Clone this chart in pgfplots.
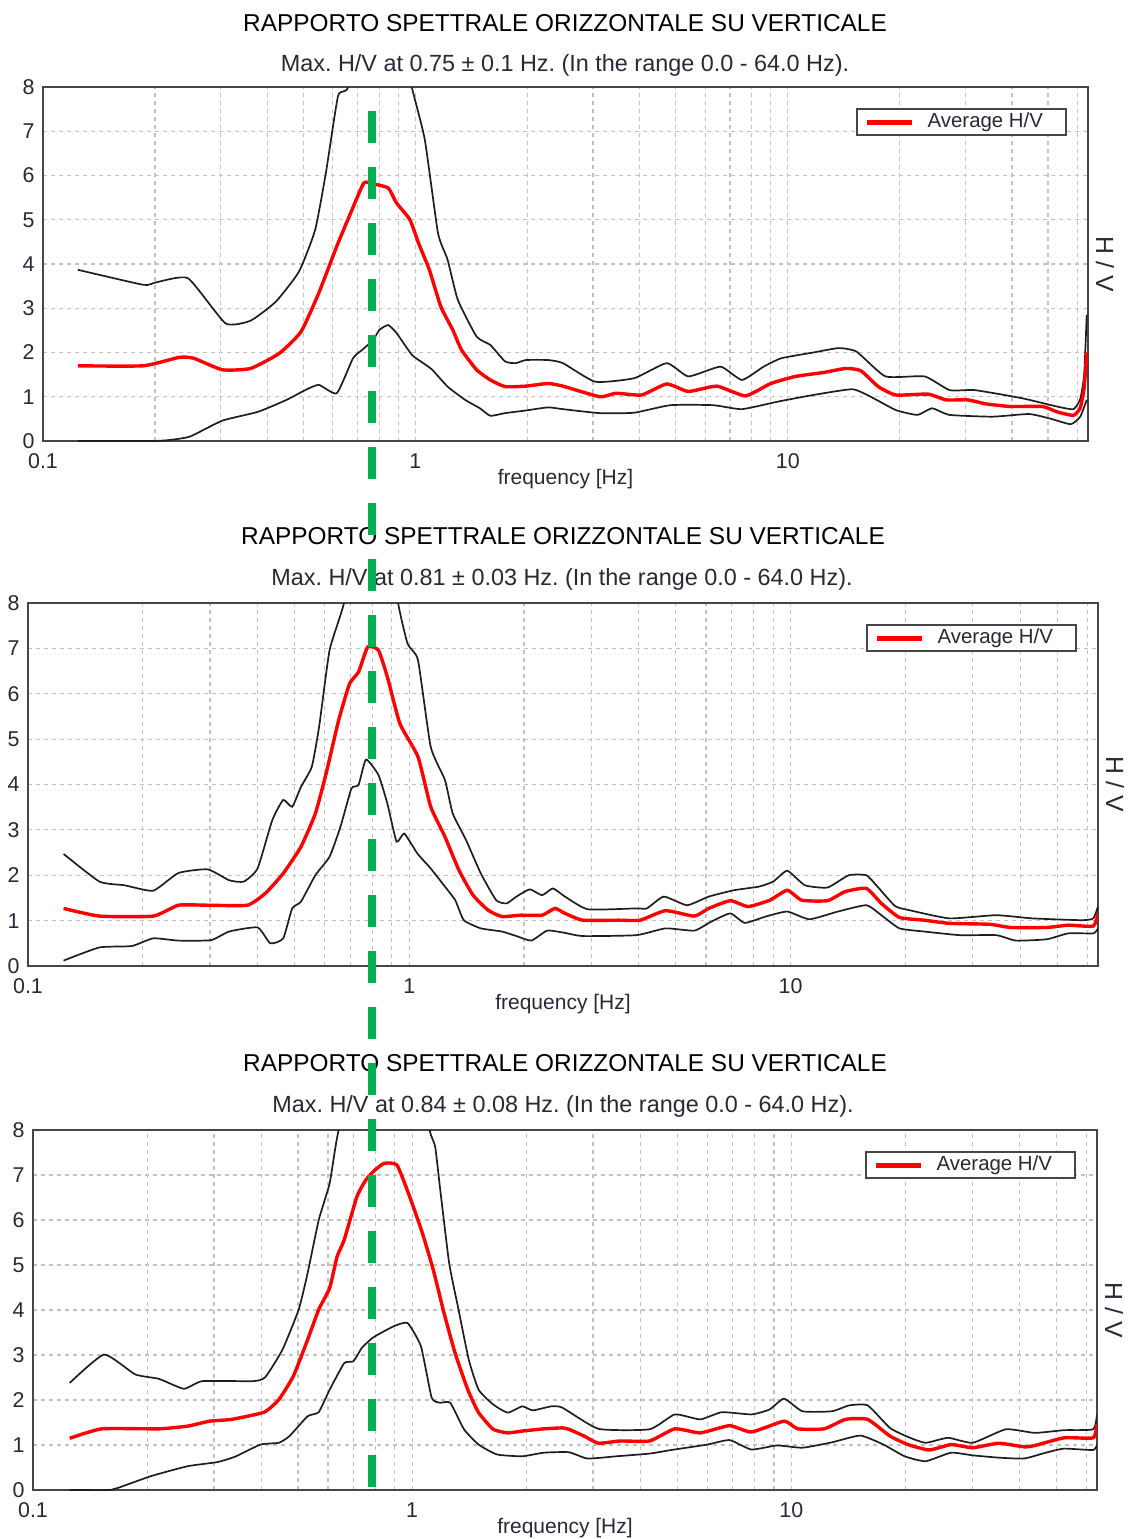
\documentclass[border=0pt]{standalone}
\usepackage{fontspec}
\setmainfont{Liberation Sans}
\usepackage{pgfplots}
\pgfplotsset{compat=1.18}
\frenchspacing
\definecolor{hvred}{RGB}{255,0,0}
\definecolor{hvgreen}{RGB}{0,176,80}
\definecolor{hvblack}{RGB}{30,30,30}
\definecolor{framec}{RGB}{70,70,70}
\definecolor{txt}{RGB}{40,40,55}
\pgfplotsset{
  every axis/.append style={
    scale only axis, clip mode=individual,
    xmin=0.1, xmax=64, ymin=0, ymax=8,
    xtick={0.1,1,10}, xticklabels={0.1,1,10},
    minor xtick={0.2,0.3,0.4,0.5,0.6,0.7,0.8,0.9,2,3,4,5,6,7,8,9,20,30,40,50,60},
    ytick={0,1,2,3,4,5,6,7,8},
    xmajorgrids=true, xminorgrids=true, ymajorgrids=true,
    major grid style={gray!48, line width=0.6pt, dash pattern=on 2pt off 2pt},
    minor grid style={gray!48, line width=0.6pt, dash pattern=on 2pt off 2pt},
    axis line style={framec, line width=1pt},
    major tick length=0pt, minor tick length=0pt,
    tick style={draw=none},
    ticklabel style={font=\fontsize{10.7}{12}\selectfont, text=txt},
    yticklabel style={anchor=east, inner sep=0pt, xshift=-4pt},
    xticklabel style={anchor=base, inner sep=0pt, yshift=-13.5pt},
    xlabel={frequency [Hz]},
    xlabel style={at={(axis description cs:0.5,0)}, anchor=base, yshift=-21.5pt, inner sep=0pt, font=\fontsize{10.5}{12}\selectfont, text=txt},
    legend style={at={(rel axis cs:1,1)}, anchor=north east, xshift=-10.5pt, yshift=-10.5pt,
      draw=framec, line width=1pt, fill=white, inner xsep=0pt, inner ysep=1.5pt,
      font=\fontsize{10.2}{12}\selectfont, text=txt,
      nodes={inner sep=0pt, text height=7.5pt, text depth=2.5pt}},
    legend image code/.code={\path[draw=none,fill=none] (0pt,0pt) -- (35.5pt,0pt); \draw[line width=2.5pt] (5pt,0pt) -- (27.5pt,0pt);},
  },
}
\newcommand{\hvlabel}{\node[rotate=-90, inner sep=0pt, font=\fontsize{12.4}{14}\selectfont, text=txt] at ([xshift=8.5pt]rel axis cs:1,0.5) {H / V};}
\newcommand{\hventry}{\addlegendentry{Average H/V\rule{11.5pt}{0pt}}}
\begin{document}
\begin{tikzpicture}
\useasboundingbox (0,0) rectangle (564pt,-769.5pt);
% titles
\node[anchor=base, inner sep=0pt, font=\fontsize{12.2}{14}\selectfont] at (282.5pt,-15.5pt) {RAPPORTO SPETTRALE ORIZZONTALE SU VERTICALE};
\node[anchor=base, inner sep=0pt, font=\fontsize{11.7}{14}\selectfont, text=txt] at (282.5pt,-35.5pt) {Max. H/V at 0.75 ± 0.1 Hz. (In the range 0.0 - 64.0 Hz).};
\node[anchor=base, inner sep=0pt, font=\fontsize{12.2}{14}\selectfont] at (281.5pt,-272pt) {RAPPORTO SPETTRALE ORIZZONTALE SU VERTICALE};
\node[anchor=base, inner sep=0pt, font=\fontsize{11.7}{14}\selectfont, text=txt] at (281pt,-292.5pt) {Max. H/V at 0.81 ± 0.03 Hz. (In the range 0.0 - 64.0 Hz).};
\node[anchor=base, inner sep=0pt, font=\fontsize{12.2}{14}\selectfont] at (282.5pt,-535.5pt) {RAPPORTO SPETTRALE ORIZZONTALE SU VERTICALE};
\node[anchor=base, inner sep=0pt, font=\fontsize{11.7}{14}\selectfont, text=txt] at (281.5pt,-556pt) {Max. H/V at 0.84 ± 0.08 Hz. (In the range 0.0 - 64.0 Hz).};

% ---------- panel 1 ----------
\begin{semilogxaxis}[name=p1, anchor=south west, at={(21.5pt,-220.5pt)}, width=522.5pt, height=177pt, /pgf/number format/assume math mode=true]
\addplot[hvblack, line width=0.85pt, smooth, tension=0.3, forget plot] coordinates {(0.124,3.87) (0.186,3.53) (0.2,3.58) (0.245,3.68) (0.309,2.66) (0.361,2.72) (0.422,3.15) (0.487,3.83) (0.538,4.77) (0.575,6.06) (0.62,7.8) (0.66,8.0) (0.75,9.8) (0.88,9.8) (0.978,8.0) (1.06,6.81) (1.15,4.7) (1.22,4.1) (1.3,3.19) (1.46,2.36) (1.59,2.17) (1.74,1.8) (1.86,1.76) (1.98,1.83) (2.27,1.83) (2.49,1.76) (3.04,1.34) (3.87,1.42) (4.73,1.76) (5.41,1.46) (6.6,1.68) (7.53,1.38) (8.61,1.68) (9.6,1.87) (11.7,2.0) (13.7,2.1) (15.3,2.02) (18.3,1.46) (23.3,1.46) (27.2,1.15) (31.8,1.15) (42.4,0.97) (52.8,0.78) (58.5,0.72) (61.0,0.95) (62.5,1.5) (63.5,2.85)};
\addplot[hvblack, line width=0.85pt, smooth, tension=0.3, forget plot] coordinates {(0.124,0) (0.194,0) (0.217,0.02) (0.248,0.1) (0.303,0.46) (0.378,0.66) (0.451,0.93) (0.503,1.14) (0.55,1.27) (0.615,1.08) (0.68,1.87) (0.72,2.06) (0.77,2.28) (0.8,2.51) (0.845,2.62) (0.89,2.44) (0.978,1.95) (1.05,1.76) (1.11,1.61) (1.22,1.23) (1.36,0.93) (1.49,0.74) (1.59,0.57) (1.74,0.63) (1.98,0.69) (2.27,0.76) (2.49,0.72) (3.13,0.63) (3.87,0.64) (4.84,0.81) (6.3,0.81) (7.53,0.72) (9.4,0.89) (11.7,1.04) (14.9,1.17) (16.7,1.0) (19.5,0.7) (22.3,0.59) (24.4,0.74) (27.2,0.59) (35.5,0.55) (44.4,0.61) (50.5,0.51) (57.5,0.38) (61.0,0.55) (63.5,0.93)};
\addplot[hvred, line width=1.7pt, smooth, tension=0.3] coordinates {(0.124,1.7) (0.186,1.7) (0.232,1.89) (0.254,1.87) (0.303,1.61) (0.361,1.64) (0.431,1.98) (0.493,2.47) (0.55,3.34) (0.615,4.4) (0.67,5.15) (0.727,5.83) (0.77,5.81) (0.845,5.72) (0.89,5.38) (0.967,5.0) (1.02,4.47) (1.09,3.87) (1.17,3.04) (1.26,2.51) (1.33,2.06) (1.46,1.61) (1.59,1.38) (1.74,1.23) (1.98,1.24) (2.27,1.3) (2.49,1.24) (3.13,1.0) (3.46,1.08) (4.05,1.04) (4.73,1.29) (5.41,1.12) (6.45,1.24) (7.7,1.02) (9.0,1.3) (10.5,1.46) (12.5,1.55) (14.3,1.64) (15.7,1.59) (17.5,1.23) (19.5,1.04) (23.8,1.06) (26.6,0.93) (30.4,0.93) (34.0,0.84) (39.6,0.78) (48.3,0.78) (52.8,0.66) (58.5,0.58) (61.0,0.75) (62.5,1.2) (63.5,2.0)};
\hventry
\hvlabel
\coordinate (gtop) at (axis cs:0.767,7.458);
\end{semilogxaxis}

% ---------- panel 2 ----------
\begin{semilogxaxis}[name=p2, anchor=south west, at={(14pt,-483pt)}, width=535pt, height=181.5pt, /pgf/number format/assume math mode=true]
\addplot[hvblack, line width=0.85pt, smooth, tension=0.3, forget plot] coordinates {(0.124,2.47) (0.154,1.86) (0.179,1.78) (0.213,1.66) (0.248,2.05) (0.296,2.13) (0.337,1.89) (0.368,1.86) (0.4,2.15) (0.437,3.21) (0.467,3.66) (0.493,3.51) (0.52,3.95) (0.555,4.39) (0.58,5.27) (0.618,6.96) (0.674,8.0) (0.75,10) (0.86,10) (0.935,7.99) (0.99,7.1) (1.054,6.74) (1.138,4.83) (1.24,4.1) (1.3,3.36) (1.41,2.77) (1.54,2.04) (1.69,1.45) (1.8,1.38) (1.91,1.53) (2.07,1.69) (2.23,1.56) (2.38,1.71) (2.56,1.53) (2.94,1.25) (3.94,1.27) (4.2,1.27) (4.65,1.53) (5.35,1.34) (6.1,1.53) (7.1,1.67) (8.26,1.75) (9.0,1.86) (9.8,2.1) (10.9,1.78) (12.5,1.73) (14.2,2.0) (15.8,2.0) (16.9,1.75) (18.8,1.32) (20.5,1.23) (26.1,1.05) (34.6,1.12) (43,1.05) (58,1.01) (62.2,1.05) (64,1.31)};
\addplot[hvblack, line width=0.85pt, smooth, tension=0.3, forget plot] coordinates {(0.124,0.12) (0.154,0.41) (0.187,0.44) (0.213,0.61) (0.248,0.56) (0.302,0.57) (0.337,0.76) (0.4,0.85) (0.432,0.5) (0.467,0.61) (0.493,1.27) (0.52,1.42) (0.567,2.0) (0.618,2.41) (0.66,3.07) (0.705,3.91) (0.736,3.99) (0.77,4.55) (0.83,4.21) (0.876,3.58) (0.926,2.74) (0.97,2.92) (1.05,2.48) (1.138,2.15) (1.24,1.75) (1.32,1.45) (1.39,1.01) (1.54,0.83) (1.75,0.76) (1.91,0.66) (2.09,0.56) (2.3,0.78) (2.56,0.73) (2.85,0.66) (3.94,0.68) (4.7,0.83) (5.59,0.78) (6.2,0.98) (6.95,1.16) (7.58,0.95) (8.6,1.09) (9.8,1.2) (11.2,1.03) (13.3,1.2) (15.8,1.34) (17.3,1.12) (19.3,0.83) (22.4,0.76) (27.8,0.68) (34.6,0.68) (39,0.56) (47,0.59) (53.5,0.72) (62.2,0.72) (64,0.83)};
\addplot[hvred, line width=1.7pt, smooth, tension=0.3] coordinates {(0.124,1.27) (0.154,1.10) (0.213,1.10) (0.248,1.34) (0.296,1.34) (0.376,1.34) (0.419,1.6) (0.467,2.04) (0.52,2.63) (0.567,3.36) (0.605,4.24) (0.653,5.42) (0.697,6.22) (0.736,6.48) (0.778,7.03) (0.83,6.96) (0.876,6.37) (0.945,5.34) (1.054,4.61) (1.138,3.51) (1.24,2.85) (1.35,2.11) (1.47,1.56) (1.61,1.23) (1.75,1.09) (1.96,1.12) (2.23,1.12) (2.41,1.27) (2.56,1.16) (2.85,1.01) (3.54,1.01) (4.03,1.01) (4.7,1.22) (5.59,1.10) (6.1,1.27) (6.95,1.44) (7.74,1.31) (8.82,1.45) (9.8,1.67) (10.7,1.45) (12.5,1.44) (13.9,1.64) (15.8,1.71) (17.3,1.38) (19.3,1.07) (22.4,1.01) (26.1,0.94) (33.2,0.92) (37.8,0.85) (47,0.85) (53.5,0.9) (62.2,0.88) (64,1.16)};
\hventry
\hvlabel
\end{semilogxaxis}

% ---------- panel 3 ----------
\begin{semilogxaxis}[name=p3, anchor=south west, at={(16.5pt,-745pt)}, width=532pt, height=180pt, /pgf/number format/assume math mode=true]
\addplot[hvblack, line width=0.85pt, smooth, tension=0.3, forget plot] coordinates {(0.125,2.38) (0.154,3.01) (0.186,2.57) (0.215,2.47) (0.25,2.25) (0.28,2.42) (0.381,2.42) (0.41,2.51) (0.455,3.12) (0.502,4.01) (0.53,4.82) (0.567,6.0) (0.606,6.82) (0.64,8.0) (0.75,10) (1.0,10) (1.112,8.0) (1.15,7.63) (1.186,6.67) (1.252,5.04) (1.32,4.08) (1.41,2.9) (1.497,2.23) (1.636,1.9) (1.787,1.72) (1.951,1.86) (2.08,1.77) (2.33,1.86) (2.49,1.83) (3.1,1.36) (4.23,1.35) (4.93,1.68) (5.75,1.57) (6.56,1.73) (7.85,1.68) (8.76,1.79) (9.57,2.03) (10.7,1.75) (12.8,1.75) (14.2,1.88) (15.9,1.88) (18.2,1.38) (20.3,1.18) (22.6,1.05) (25.9,1.16) (30.1,1.05) (36.8,1.35) (43.9,1.27) (52.4,1.33) (62.5,1.35) (64,1.68)};
\addplot[hvblack, line width=0.85pt, smooth, tension=0.3, forget plot] coordinates {(0.125,0) (0.16,0) (0.168,0.05) (0.205,0.31) (0.256,0.53) (0.306,0.62) (0.341,0.74) (0.398,1.01) (0.445,1.05) (0.475,1.2) (0.53,1.64) (0.567,1.73) (0.606,2.23) (0.662,2.82) (0.7,2.86) (0.737,3.16) (0.786,3.38) (0.844,3.53) (0.9,3.65) (0.973,3.71) (1.055,3.19) (1.126,2.05) (1.186,1.94) (1.26,1.94) (1.37,1.35) (1.497,1.01) (1.674,0.79) (1.951,0.75) (2.227,0.83) (2.59,0.84) (2.9,0.7) (3.46,0.75) (4.23,0.81) (4.83,0.89) (6.0,1.01) (6.87,1.11) (7.85,0.9) (9.16,0.99) (10.7,0.94) (12.8,1.06) (15.2,1.21) (17.5,1.01) (19.9,0.75) (22.6,0.64) (26.4,0.83) (30.1,0.77) (35.2,0.72) (41.1,0.7) (46.9,0.83) (52.4,0.92) (62.5,0.89) (64,1.01)};
\addplot[hvred, line width=1.7pt, smooth, tension=0.3] coordinates {(0.125,1.15) (0.152,1.36) (0.215,1.36) (0.256,1.42) (0.292,1.53) (0.334,1.57) (0.407,1.73) (0.445,2.01) (0.486,2.53) (0.53,3.34) (0.567,4.01) (0.606,4.49) (0.634,5.19) (0.662,5.56) (0.715,6.52) (0.755,6.89) (0.798,7.11) (0.844,7.26) (0.912,7.22) (0.985,6.52) (1.064,5.71) (1.137,4.89) (1.214,3.93) (1.297,3.05) (1.402,2.23) (1.497,1.72) (1.636,1.35) (1.787,1.27) (1.951,1.31) (2.227,1.36) (2.488,1.38) (2.59,1.35) (2.84,1.2) (3.1,1.04) (3.54,1.09) (4.23,1.09) (4.93,1.36) (5.75,1.27) (6.87,1.43) (7.85,1.29) (9.57,1.53) (10.4,1.36) (12.2,1.36) (13.9,1.57) (15.9,1.57) (18.2,1.2) (20.3,1.01) (23.1,0.89) (26.4,1.01) (30.1,0.94) (35.2,1.04) (41.1,0.96) (43.9,0.99) (52.4,1.16) (62.5,1.16) (64,1.46)};
\hventry
\hvlabel
\coordinate (gbot) at (rel axis cs:0,0);
\end{semilogxaxis}

% green marker line across the three panels
\draw[hvgreen, line width=4pt, dash pattern=on 16pt off 12pt] (gtop) -- (gtop |- gbot);
\end{tikzpicture}
\end{document}
